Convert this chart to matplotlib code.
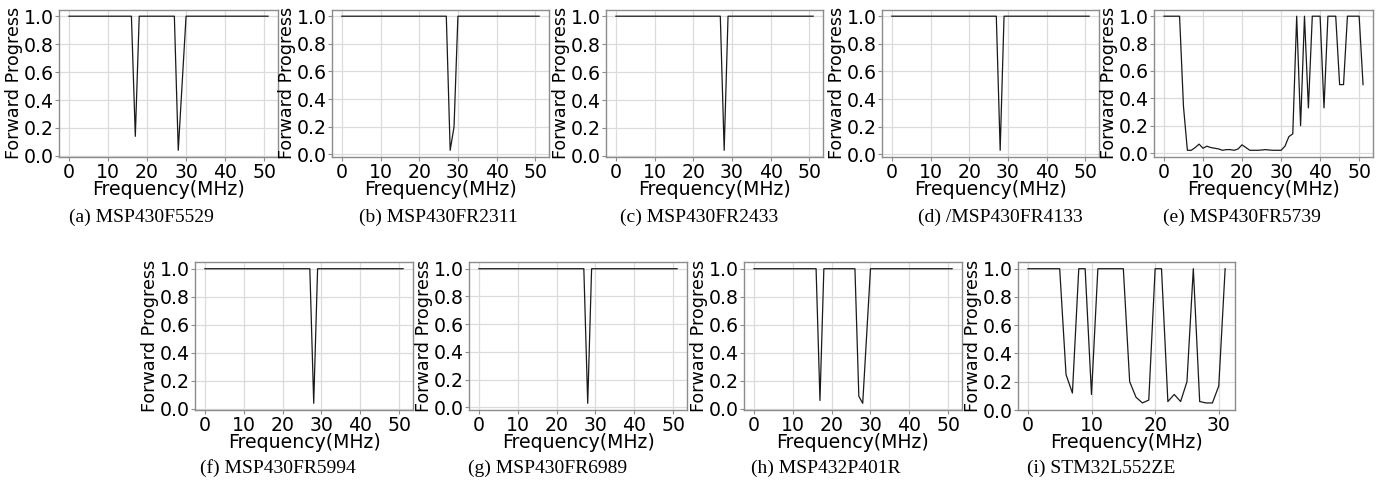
import matplotlib
matplotlib.use("Agg")
import matplotlib.pyplot as plt
import numpy as np

W, H = 1382, 487

freq_51 = list(range(0, 52))
freq_31 = list(range(0, 32))

def ones(n):
    return [1.0] * n

# (a) MSP430F5529
vals_a = ones(52)
vals_a[17] = 0.14
vals_a[28] = 0.04
vals_a[29] = 0.52
# (b) MSP430FR2311
vals_b = ones(52)
vals_b[28] = 0.03
vals_b[29] = 0.20
# (c) MSP430FR2433
vals_c = ones(52)
vals_c[28] = 0.04
# (d) /MSP430FR4133
vals_d = ones(52)
vals_d[28] = 0.03
# (e) MSP430FR5739
vals_e = [1.0, 1.0, 1.0, 1.0, 1.0, 0.34, 0.02, 0.02, 0.04, 0.065,
          0.035, 0.05, 0.04, 0.035, 0.03, 0.02, 0.025, 0.025, 0.02, 0.03,
          0.06, 0.04, 0.02, 0.02, 0.02, 0.022, 0.025, 0.022, 0.02, 0.02,
          0.02, 0.05, 0.12, 0.14, 1.0, 0.20, 1.0, 0.33, 1.0, 1.0,
          1.0, 0.33, 1.0, 1.0, 1.0, 0.5, 0.5, 1.0, 1.0, 1.0,
          1.0, 0.5]
# (f) MSP430FR5994
vals_f = ones(52)
vals_f[28] = 0.04
# (g) MSP430FR6989
vals_g = ones(52)
vals_g[28] = 0.03
# (h) MSP432P401R
vals_h = ones(52)
vals_h[17] = 0.06
vals_h[27] = 0.09
vals_h[28] = 0.04
vals_h[29] = 0.52
# (i) STM32L552ZE
vals_i = [1.0, 1.0, 1.0, 1.0, 1.0, 1.0, 0.25, 0.12, 1.0, 1.0,
          0.11, 1.0, 1.0, 1.0, 1.0, 1.0, 0.20, 0.09, 0.05, 0.07,
          1.0, 1.0, 0.06, 0.11, 0.06, 0.20, 1.0, 0.06, 0.05, 0.05,
          0.17, 1.0]

captions = ["(a) MSP430F5529", "(b) MSP430FR2311", "(c) MSP430FR2433",
            "(d) /MSP430FR4133", "(e) MSP430FR5739", "(f) MSP430FR5994",
            "(g) MSP430FR6989", "(h) MSP432P401R", "(i) STM32L552ZE"]
series = [(freq_51, vals_a), (freq_51, vals_b), (freq_51, vals_c),
          (freq_51, vals_d), (freq_51, vals_e), (freq_51, vals_f),
          (freq_51, vals_g), (freq_51, vals_h), (freq_31, vals_i)]

# pixel boxes (left, top, right, bottom)
boxes = [(59, 9.5, 278, 157), (332, 9.5, 549, 157), (606, 9.5, 823, 157),
         (882, 9.5, 1099, 157), (1154, 9.5, 1373, 157),
         (195, 262, 413, 410), (469, 262, 687, 410), (744, 262, 962, 410),
         (1018, 262, 1235, 410)]
cap_pos = [(141, 217), (438, 217), (699, 217), (1000, 217), (1242, 217),
           (278, 468), (548, 468), (826, 468), (1101, 468)]

fig = plt.figure(figsize=(W / 100, H / 100), dpi=100)
fs = 13.6
for (x, y), (l, t, r, b), cap, (cx, cy) in zip(series, boxes, captions, cap_pos):
    ax = fig.add_axes([l / W, 1 - b / H, (r - l) / W, (b - t) / H])
    ax.plot(x, y, color="#1a1a1a", lw=0.9)
    ax.grid(True, color="#dcdcdc", lw=0.9)
    ax.set_axisbelow(True)
    for s in ax.spines.values():
        s.set_color("#8c8c8c")
        s.set_linewidth(1.0)
    ax.set_yticks([0.0, 0.2, 0.4, 0.6, 0.8, 1.0])
    if len(x) > 40:
        ax.set_xticks([0, 10, 20, 30, 40, 50])
    else:
        ax.set_xticks([0, 10, 20, 30])
    ax.tick_params(labelsize=fs, length=3, color="#8c8c8c", pad=1)
    ax.set_xlabel("Frequency(MHz)", fontsize=fs, labelpad=-1)
    ax.set_ylabel("Forward Progress", fontsize=12.6, labelpad=0)
    fig.text(cx / W, 1 - cy / H, cap, ha="center", va="center",
             fontsize=14, family="Liberation Serif")

fig.savefig("out.png", dpi=100)
